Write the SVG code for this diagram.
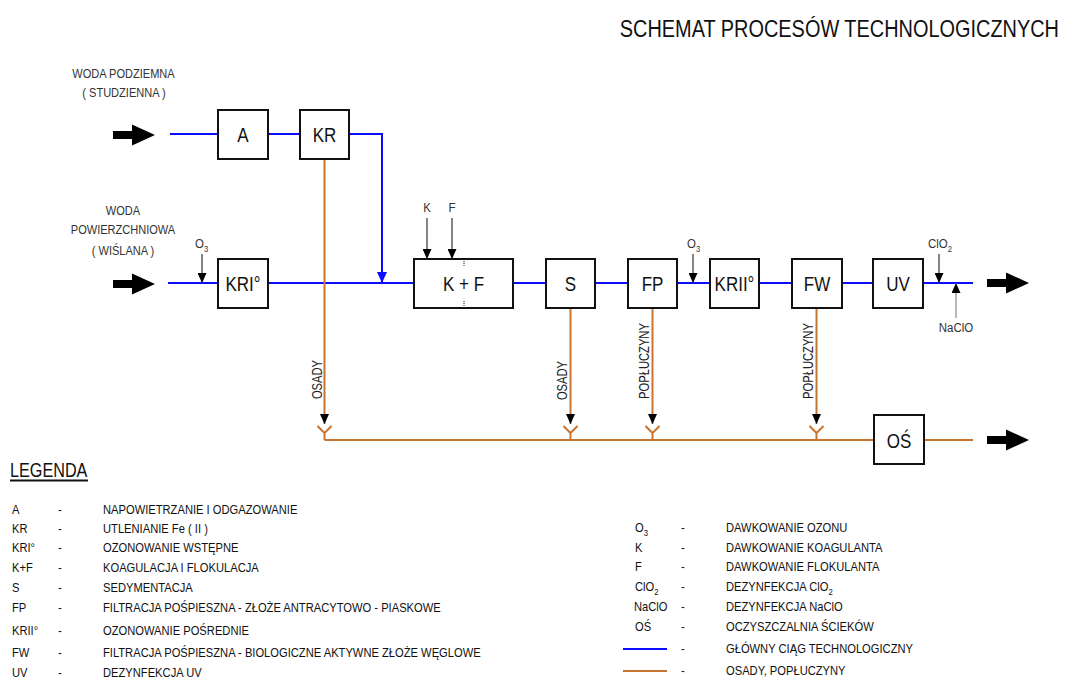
<svg xmlns="http://www.w3.org/2000/svg" width="1065" height="680" viewBox="0 0 1065 680">
<style>
text { font-family: "Liberation Sans", Arial, sans-serif; fill: #1a1a1a; }
.title { font-size: 24px; text-anchor: end; fill: #111; }
.src { font-size: 13px; text-anchor: middle; fill: #333; }
.box { fill: #fff; stroke: #111; stroke-width: 2; }
.bl { font-size: 20px; text-anchor: middle; fill: #111; }
.dose { font-size: 13.5px; fill: #333; }
.dosem { font-size: 13.5px; fill: #333; text-anchor: middle; }
.vl { font-size: 14px; text-anchor: middle; fill: #222; }
.lg { font-size: 13px; fill: #111; }
.lgh { font-size: 20px; fill: #111; }
.main { fill: none; stroke: #0c0cff; stroke-width: 2; }
.sed { fill: none; stroke: #c8742f; stroke-width: 2; }
.dl { stroke: #333; stroke-width: 1.2; }
.dlg { stroke: #888; stroke-width: 1.2; }
.big { fill: #000; }
.tick { stroke: #111; stroke-width: 1; stroke-dasharray: 1 1; }
</style>
<defs>
<marker id="ah" markerUnits="userSpaceOnUse" markerWidth="10" markerHeight="9" refX="10" refY="4.5" orient="auto" viewBox="0 0 10 9">
<path d="M0,0 L10,4.5 L0,9 z" fill="#000"/>
</marker>
<marker id="ahb" markerUnits="userSpaceOnUse" markerWidth="11" markerHeight="10" refX="11" refY="5" orient="auto" viewBox="0 0 11 10">
<path d="M0,0 L11,5 L0,10 z" fill="#0c0cff"/>
</marker>
<path id="bigarrow" d="M0,-4 L19,-4 L19,-10.5 L42,0 L19,10.5 L19,4 L0,4 z"/>
</defs>

<text class="title" transform="translate(1059,37) scale(0.83,1)">SCHEMAT PROCESÓW TECHNOLOGICZNYCH</text>

<g id="sources">
<text class="src" transform="translate(123.5,78) scale(0.85,1)">WODA PODZIEMNA</text>
<text class="src" transform="translate(124,97) scale(0.85,1)">( STUDZIENNA )</text>
<text class="src" transform="translate(123,215) scale(0.85,1)">WODA</text>
<text class="src" transform="translate(123,234) scale(0.85,1)">POWIERZCHNIOWA</text>
<text class="src" transform="translate(123,255) scale(0.85,1)">( WIŚLANA )</text>
<use href="#bigarrow" class="big" x="113" y="135"/>
<use href="#bigarrow" class="big" x="113" y="284"/>
<use href="#bigarrow" class="big" x="987" y="283"/>
<use href="#bigarrow" class="big" x="987" y="440"/>
</g>

<g id="connectors">
<path class="main" d="M170,134 H218 M268,134 H300"/>
<path class="main" d="M349,134 H382 V283" marker-end="url(#ahb)"/>
<path class="main" d="M168,283 H218 M268,283 H414 M513,283 H546 M595,283 H628 M677,283 H710 M759,283 H792 M842,283 H873 M923,283 H973"/>
<path class="sed" d="M324.5,159 V424" marker-end="url(#ah)"/>
<path class="sed" d="M570.5,308 V424" marker-end="url(#ah)"/>
<path class="sed" d="M652.5,308 V424" marker-end="url(#ah)"/>
<path class="sed" d="M816.5,308 V424" marker-end="url(#ah)"/>
<path class="sed" d="M317.5,426 L324.5,433 L331.5,426 M324.5,433 V440"/>
<path class="sed" d="M563.5,426 L570.5,433 L577.5,426 M570.5,433 V440"/>
<path class="sed" d="M645.5,426 L652.5,433 L659.5,426 M652.5,433 V440"/>
<path class="sed" d="M809.5,426 L816.5,433 L823.5,426 M816.5,433 V440"/>
<path class="sed" d="M324.5,440 H874 M924,440 H973"/>
<line class="dl" x1="202" y1="254" x2="202" y2="283" marker-end="url(#ah)"/>
<line class="dl" x1="427" y1="218" x2="427" y2="259" marker-end="url(#ah)"/>
<line class="dl" x1="452" y1="218" x2="452" y2="259" marker-end="url(#ah)"/>
<line class="dl" x1="693" y1="254" x2="693" y2="283" marker-end="url(#ah)"/>
<line class="dl" x1="939" y1="254" x2="939" y2="283" marker-end="url(#ah)"/>
<line class="dlg" x1="956" y1="318" x2="956" y2="283" marker-end="url(#ah)"/>
<text class="dose" transform="translate(195,248) scale(0.85,1)">O<tspan font-size="9" dy="4">3</tspan></text>
<text class="dosem" transform="translate(427,212) scale(0.85,1)">K</text>
<text class="dosem" transform="translate(452,212) scale(0.85,1)">F</text>
<text class="dose" transform="translate(687,248) scale(0.85,1)">O<tspan font-size="9" dy="4">3</tspan></text>
<text class="dose" transform="translate(928,248) scale(0.85,1)">ClO<tspan font-size="9" dy="4">2</tspan></text>
<text class="dosem" transform="translate(956,332) scale(0.85,1)">NaClO</text>
<text class="vl" transform="translate(322,379.5) rotate(-90) scale(0.8,1)">OSADY</text>
<text class="vl" transform="translate(567,380.5) rotate(-90) scale(0.8,1)">OSADY</text>
<text class="vl" transform="translate(649,361) rotate(-90) scale(0.8,1)">POPŁUCZYNY</text>
<text class="vl" transform="translate(813,361) rotate(-90) scale(0.8,1)">POPŁUCZYNY</text>
</g>

<g id="node-A"><rect class="box" x="218" y="110" width="50" height="49"/><text class="bl" transform="translate(243,141.5) scale(0.85,1)">A</text></g>
<g id="node-KR"><rect class="box" x="300" y="110" width="49" height="49"/><text class="bl" transform="translate(324.5,141.5) scale(0.85,1)">KR</text></g>
<g id="node-KRI"><rect class="box" x="218" y="259" width="50" height="49"/><text class="bl" transform="translate(243,290.5) scale(0.85,1)">KRI°</text></g>
<g id="node-KF"><rect class="box" x="414" y="259" width="99" height="49"/><text class="bl" transform="translate(463.5,290.5) scale(0.85,1)">K + F</text>
<line class="tick" x1="464" y1="261" x2="464" y2="267"/><line class="tick" x1="464" y1="301" x2="464" y2="307"/></g>
<g id="node-S"><rect class="box" x="546" y="259" width="49" height="49"/><text class="bl" transform="translate(570.5,290.5) scale(0.85,1)">S</text></g>
<g id="node-FP"><rect class="box" x="628" y="259" width="49" height="49"/><text class="bl" transform="translate(652.5,290.5) scale(0.85,1)">FP</text></g>
<g id="node-KRII"><rect class="box" x="710" y="259" width="49" height="49"/><text class="bl" transform="translate(734.5,290.5) scale(0.85,1)">KRII°</text></g>
<g id="node-FW"><rect class="box" x="792" y="259" width="50" height="49"/><text class="bl" transform="translate(817,290.5) scale(0.85,1)">FW</text></g>
<g id="node-UV"><rect class="box" x="873" y="259" width="50" height="49"/><text class="bl" transform="translate(898,290.5) scale(0.85,1)">UV</text></g>
<g id="node-OS"><rect class="box" x="874" y="415" width="50" height="49"/><text class="bl" transform="translate(899,447.5) scale(0.85,1)">OŚ</text></g>

<g id="legend">
<text class="lgh" transform="translate(10,477) scale(0.81,1)">LEGENDA</text>
<line x1="10" y1="480.5" x2="88" y2="480.5" stroke="#111" stroke-width="2"/>
<text class="lg" transform="translate(12,513.5) scale(0.86,1)">A</text>
<text class="lg" transform="translate(12,532.5) scale(0.86,1)">KR</text>
<text class="lg" transform="translate(12,551.5) scale(0.86,1)">KRI°</text>
<text class="lg" transform="translate(12,571.5) scale(0.86,1)">K+F</text>
<text class="lg" transform="translate(12,591.5) scale(0.86,1)">S</text>
<text class="lg" transform="translate(12,611.5) scale(0.86,1)">FP</text>
<text class="lg" transform="translate(12,634.5) scale(0.86,1)">KRII°</text>
<text class="lg" transform="translate(12,656.5) scale(0.86,1)">FW</text>
<text class="lg" transform="translate(12,676.5) scale(0.86,1)">UV</text>
<text class="lg" transform="translate(58,513.5) scale(0.86,1)">-</text>
<text class="lg" transform="translate(58,532.5) scale(0.86,1)">-</text>
<text class="lg" transform="translate(58,551.5) scale(0.86,1)">-</text>
<text class="lg" transform="translate(58,571.5) scale(0.86,1)">-</text>
<text class="lg" transform="translate(58,591.5) scale(0.86,1)">-</text>
<text class="lg" transform="translate(58,611.5) scale(0.86,1)">-</text>
<text class="lg" transform="translate(58,634.5) scale(0.86,1)">-</text>
<text class="lg" transform="translate(58,656.5) scale(0.86,1)">-</text>
<text class="lg" transform="translate(58,676.5) scale(0.86,1)">-</text>
<text class="lg" transform="translate(103,513.5) scale(0.86,1)">NAPOWIETRZANIE I ODGAZOWANIE</text>
<text class="lg" transform="translate(103,532.5) scale(0.86,1)">UTLENIANIE Fe  ( II )</text>
<text class="lg" transform="translate(103,551.5) scale(0.86,1)">OZONOWANIE WSTĘPNE</text>
<text class="lg" transform="translate(103,571.5) scale(0.86,1)">KOAGULACJA I FLOKULACJA</text>
<text class="lg" transform="translate(103,591.5) scale(0.86,1)">SEDYMENTACJA</text>
<text class="lg" transform="translate(103,611.5) scale(0.86,1)">FILTRACJA POŚPIESZNA - ZŁOŻE ANTRACYTOWO - PIASKOWE</text>
<text class="lg" transform="translate(103,634.5) scale(0.86,1)">OZONOWANIE POŚREDNIE</text>
<text class="lg" transform="translate(103,656.5) scale(0.86,1)">FILTRACJA POŚPIESZNA - BIOLOGICZNE AKTYWNE ZŁOŻE WĘGLOWE</text>
<text class="lg" transform="translate(103,676.5) scale(0.86,1)">DEZYNFEKCJA UV</text>
<text class="lg" transform="translate(635,531.5) scale(0.86,1)">O<tspan font-size="9" dy="4">3</tspan></text>
<text class="lg" transform="translate(635,551.5) scale(0.86,1)">K</text>
<text class="lg" transform="translate(635,571) scale(0.86,1)">F</text>
<text class="lg" transform="translate(635,590.5) scale(0.86,1)">ClO<tspan font-size="9" dy="4">2</tspan></text>
<text class="lg" transform="translate(634,610.5) scale(0.86,1)">NaClO</text>
<text class="lg" transform="translate(635,630.5) scale(0.86,1)">OŚ</text>
<text class="lg" transform="translate(681,531.5) scale(0.86,1)">-</text>
<text class="lg" transform="translate(681,551.5) scale(0.86,1)">-</text>
<text class="lg" transform="translate(681,571) scale(0.86,1)">-</text>
<text class="lg" transform="translate(681,590.5) scale(0.86,1)">-</text>
<text class="lg" transform="translate(681,610.5) scale(0.86,1)">-</text>
<text class="lg" transform="translate(681,630.5) scale(0.86,1)">-</text>
<text class="lg" transform="translate(681,653) scale(0.86,1)">-</text>
<text class="lg" transform="translate(681,675) scale(0.86,1)">-</text>
<text class="lg" transform="translate(726,531.5) scale(0.86,1)">DAWKOWANIE OZONU</text>
<text class="lg" transform="translate(726,551.5) scale(0.86,1)">DAWKOWANIE KOAGULANTA</text>
<text class="lg" transform="translate(726,571) scale(0.86,1)">DAWKOWANIE FLOKULANTA</text>
<text class="lg" transform="translate(726,590.5) scale(0.86,1)">DEZYNFEKCJA ClO<tspan font-size="9" dy="4">2</tspan></text>
<text class="lg" transform="translate(726,610.5) scale(0.86,1)">DEZYNFEKCJA  NaClO</text>
<text class="lg" transform="translate(726,630.5) scale(0.86,1)">OCZYSZCZALNIA ŚCIEKÓW</text>
<text class="lg" transform="translate(726,653) scale(0.86,1)">GŁÓWNY CIĄG TECHNOLOGICZNY</text>
<text class="lg" transform="translate(726,675) scale(0.86,1)">OSADY, POPŁUCZYNY</text>
<line class="main" x1="623" y1="649" x2="667" y2="649" stroke-width="2.5"/>
<line class="sed" x1="623" y1="671" x2="667" y2="671" stroke-width="2.5"/>
</g>
</svg>
